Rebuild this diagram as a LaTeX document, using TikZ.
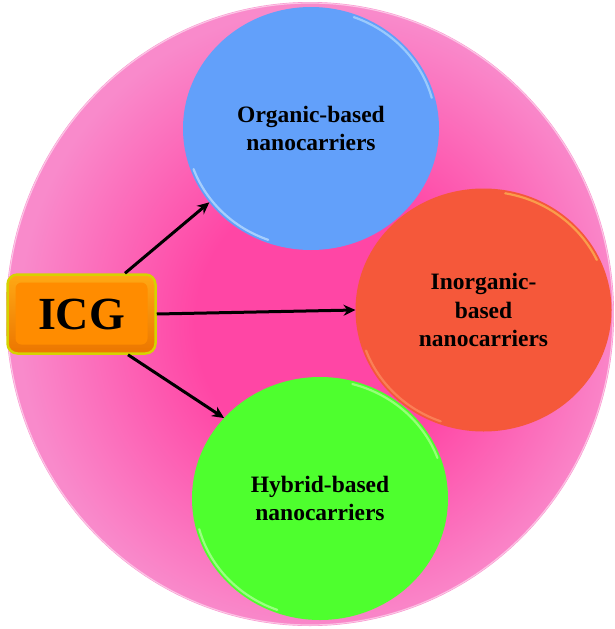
\documentclass[tikz,border=0pt]{standalone}
\usepackage{fontspec}
\setmainfont{Liberation Serif}
\usetikzlibrary{shapes.geometric,arrows.meta,calc}
\definecolor{pinkhot}{RGB}{255,70,165}
\definecolor{pinklight}{RGB}{249,138,203}
\definecolor{blueC}{RGB}{98,160,250}
\definecolor{redC}{RGB}{245,88,58}
\definecolor{greenC}{RGB}{78,255,46}
\definecolor{icgorange}{RGB}{255,140,0}
\definecolor{icgtop}{RGB}{255,168,20}
\definecolor{icgbot}{RGB}{236,118,0}
\definecolor{icgglow}{RGB}{214,210,0}
\pgfdeclareradialshading{pinkglow}{\pgfpoint{2bp}{-1bp}}{color(0bp)=(pinkhot); color(11bp)=(pinkhot); color(25bp)=(pinklight); color(50bp)=(pinklight)}
\begin{document}
\begin{tikzpicture}[x=1pt,y=-1pt,
  bubble/.style={ellipse, inner sep=0pt, outer sep=0pt, minimum width=256pt, minimum height=243pt,
    align=center, font=\bfseries\fontsize{23.5}{28.5}\selectfont, text=black},
  rim/.style={line width=2.2pt, line cap=round, opacity=.55},
  arr/.style={-{Stealth[length=12pt,width=11pt]}, line width=3pt, black},
  icgbox/.style={rectangle, rounded corners=10pt, minimum width=148pt, minimum height=79pt,
    draw=icgglow, line width=2.5pt, top color=icgtop, bottom color=icgbot,
    font=\bfseries\fontsize{46}{50}\selectfont, text=black,
    path picture={\fill[icgorange, rounded corners=6pt]
      ($(path picture bounding box.south west)+(8pt,9pt)$) rectangle
      ($(path picture bounding box.north east)-(8pt,8pt)$);}}
]
\useasboundingbox (0,0) rectangle (614,629);
% background disc
\node[ellipse, inner sep=0pt, outer sep=0pt, minimum width=608pt, minimum height=624pt,
  shading=pinkglow] (bg) at (310,314) {};
\draw[white, opacity=.5, line width=1.2pt] (bg.center) ellipse [x radius=303pt, y radius=311pt];
% organic
\node[bubble, fill=blueC] (org) at (311,128.5) {Organic-based\\nanocarriers};
\draw[rim, color={rgb,255:red,200;green,238;blue,255}]
  ($(org.center)+(15:125pt and 118.5pt)$) arc[start angle=15, end angle=70, x radius=125pt, y radius=118.5pt];
\draw[rim, color={rgb,255:red,225;green,245;blue,255}]
  ($(org.center)+(200:125pt and 118.5pt)$) arc[start angle=200, end angle=250, x radius=125pt, y radius=118.5pt];
% hybrid
\node[bubble, fill=greenC] (hyb) at (320,498.5) {Hybrid-based\\nanocarriers};
\draw[rim, color={rgb,255:red,210;green,255;blue,180}]
  ($(hyb.center)+(20:125pt and 118.5pt)$) arc[start angle=20, end angle=75, x radius=125pt, y radius=118.5pt];
\draw[rim, color={rgb,255:red,220;green,255;blue,200}]
  ($(hyb.center)+(195:125pt and 118.5pt)$) arc[start angle=195, end angle=250, x radius=125pt, y radius=118.5pt];
% inorganic
\node[bubble, fill=redC] (inorg) at (483.5,310) {Inorganic-\\based\\nanocarriers};
\draw[rim, color={rgb,255:red,255;green,215;blue,90}]
  ($(inorg.center)+(25:125pt and 118.5pt)$) arc[start angle=25, end angle=80, x radius=125pt, y radius=118.5pt];
\draw[rim, color={rgb,255:red,255;green,160;blue,110}]
  ($(inorg.center)+(200:125pt and 118.5pt)$) arc[start angle=200, end angle=250, x radius=125pt, y radius=118.5pt];
% ICG box
\node[icgbox] (icg) at (81.5,314) {ICG};
% arrows
\draw[arr] ([xshift=43.5pt]icg.north) -- (org.216);
\draw[arr] (icg.east) -- (inorg.west);
\draw[arr] ([xshift=46.5pt]icg.south) -- (hyb.140);
\end{tikzpicture}
\end{document}
